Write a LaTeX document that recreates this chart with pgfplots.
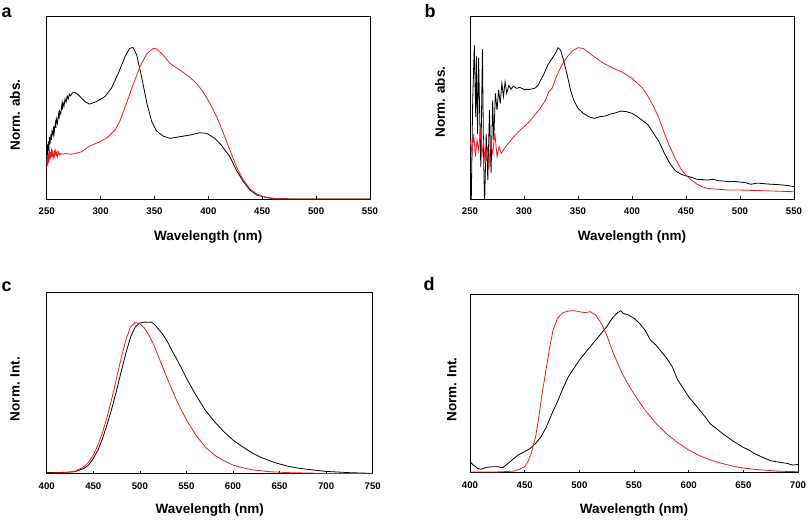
\documentclass[border=0pt]{standalone}
\usepackage{pgfplots}
\pgfplotsset{compat=1.18}
\usepackage{fontspec}
\setmainfont{Liberation Sans}
\definecolor{myred}{RGB}{237,28,36}
\pgfplotsset{
  panel/.style={
    scale only axis,
    axis line style={line width=0.8pt},
    ytick=\empty,
    xtick pos=left,
    tick align=inside,
    major tick length=3pt,
    tick style={line width=0.6pt,black},
    /pgf/number format/assume math mode=true,
    /pgf/number format/set thousands separator={},
    ticklabel style={font=\bfseries\fontsize{9.6}{9.6}\selectfont},
    every x tick label/.append style={yshift=-5.5pt},
    xlabel={Wavelength (nm)},
    label style={font=\bfseries\fontsize{13.5}{13.5}\selectfont},
    ymin=0,
    clip=true,
  },
  blk/.style={black,line width=0.8pt},
  rd/.style={myred,line width=0.8pt},
}
\begin{document}
\begin{tikzpicture}
\path[use as bounding box] (0pt,0pt) rectangle (808pt,-522pt);

% ---------------- panel a
\begin{axis}[panel,
  at={(46.7pt,-199pt)}, anchor=south west,
  width=323.3pt, height=183pt,
  xmin=250, xmax=550, ymax=1.207,
  xtick={250,300,...,550},
  x label style={at={(axis description cs:0.5,0)},anchor=center,yshift=-38pt},
  y label style={at={(axis description cs:-0.098,0.459)},anchor=center},
  ylabel={Norm. abs.},
]
\addplot[blk] coordinates {
(250,0.30)(250.5,0.36)(251,0.27)(251.5,0.38)(252,0.32)(252.5,0.41)(253,0.36)(254,0.43)(254.5,0.39)(255,0.45)
(256,0.42)(256.5,0.48)(257,0.44)(258,0.50)(258.5,0.47)(259,0.53)(260,0.50)(261,0.56)(261.5,0.53)(262,0.58)
(263,0.56)(264,0.62)(264.5,0.59)(265,0.64)(266,0.61)(267,0.66)(268,0.64)(269,0.68)(270,0.66)(271,0.69)
(272,0.68)(274,0.70)(276,0.703)(279,0.69)(282.5,0.664)(286,0.64)(289.6,0.626)(296,0.642)(304,0.675)(310,0.73)
(316.5,0.83)(322.7,0.94)(327,0.993)(330,1.0)(333.5,0.95)(338,0.807)(343,0.63)(347.5,0.51)(352,0.448)(358,0.415)
(364.4,0.40)(373.7,0.411)(383,0.422)(392,0.437)(398.5,0.433)(406,0.40)(412,0.356)(420,0.279)(426,0.191)(432.5,0.114)
(438.7,0.059)(445,0.026)(454,0.009)(463,0.002)(480,0.0)(550,0.0)
};
\addplot[rd] coordinates {
(250,0.20)(250.5,0.28)(251,0.22)(251.5,0.30)(252,0.24)(252.5,0.32)(253,0.26)(253.5,0.31)(254,0.27)(254.5,0.33)
(255,0.28)(255.5,0.32)(256,0.27)(257,0.31)(257.5,0.28)(258,0.32)(259,0.29)(259.5,0.31)(260,0.28)(261,0.31)
(262,0.29)(263,0.30)(265,0.295)(268,0.30)(272,0.295)(274.7,0.297)(282.5,0.312)(290,0.35)(299.5,0.378)(307,0.41)
(313.4,0.455)(318,0.516)(324,0.63)(330,0.75)(336.6,0.873)(343,0.96)(349,0.993)(352,0.99)(358,0.95)(364.4,0.894)
(373.7,0.85)(383,0.802)(389,0.763)(395,0.708)(401.5,0.63)(407.7,0.543)(414,0.433)(420,0.323)(426,0.213)(432.5,0.125)
(438.7,0.066)(445,0.033)(451,0.015)(460,0.004)(469.6,0.0)(550,0.0)
};
\end{axis}

% ---------------- panel b
\begin{axis}[panel,
  at={(470pt,-199pt)}, anchor=south west,
  width=324pt, height=183pt,
  xmin=250, xmax=550, ymax=1.207,
  xtick={250,300,...,550},
  x label style={at={(axis description cs:0.5,0)},anchor=center,yshift=-38pt},
  y label style={at={(axis description cs:-0.0926,0.53)},anchor=center},
  ylabel={Norm. abs.},
]
\addplot[blk] coordinates {
(250,0.50)(251,-0.1)(252.5,0.65)(254,1.015)(255.3,0.54)(256,0.94)(257,0.43)(258,0.93)(259,0.54)(260,0.21)
(261.5,0.99)(262.5,0.32)(263.5,-0.05)(265,0.43)(266.5,0.125)(268,0.587)(269.5,0.17)(271,0.65)(272,0.39)(273.5,0.697)
(275,0.587)(276.5,0.72)(278,0.63)(279.5,0.763)(281,0.675)(282.5,0.774)(284,0.697)(286,0.75)(288,0.723)(290,0.745)
(293,0.73)(296,0.736)(300,0.723)(305,0.723)(310,0.73)(313,0.75)(318,0.818)(322,0.884)(326,0.927)(329,0.96)
(331.5,0.998)(334,0.98)(337,0.905)(340,0.818)(343,0.72)(346,0.653)(350,0.598)(355,0.565)(360,0.543)(365,0.532)
(370,0.543)(375,0.547)(380,0.56)(385,0.569)(390,0.58)(395,0.576)(400,0.565)(405,0.543)(410,0.516)(415,0.488)
(420,0.433)(425,0.378)(430,0.301)(435,0.235)(440,0.187)(445,0.165)(450,0.152)(455,0.143)(460,0.13)(465,0.128)
(470,0.125)(475,0.13)(480,0.121)(485,0.118)(490,0.114)(495,0.116)(500,0.112)(505,0.108)(510,0.097)(515,0.104)
(520,0.103)(525,0.099)(530,0.097)(535,0.095)(540,0.092)(545,0.088)(550,0.081)
};
\addplot[rd] coordinates {
(250,0.39)(252,0.30)(253.5,0.43)(255,0.28)(256.5,0.39)(258,0.32)(259.5,0.455)(261,0.28)(262.5,0.39)(264,0.235)
(266,0.345)(267.5,0.19)(269,0.367)(271,0.30)(273,0.433)(275,0.28)(277,0.345)(279,0.30)(281,0.323)(283,0.345)
(286,0.371)(290,0.407)(295,0.444)(300,0.477)(305,0.51)(310,0.554)(315,0.598)(320,0.653)(323,0.708)(326,0.73)
(330,0.807)(335,0.884)(340,0.938)(345,0.978)(350,0.998)(355,0.993)(360,0.965)(365,0.938)(370,0.912)(375,0.89)
(380,0.873)(385,0.855)(390,0.84)(395,0.818)(400,0.796)(405,0.763)(410,0.73)(415,0.675)(420,0.609)(425,0.532)
(430,0.433)(435,0.345)(440,0.268)(445,0.202)(450,0.158)(455,0.125)(460,0.099)(465,0.081)(470,0.07)(480,0.064)
(490,0.059)(500,0.059)(520,0.055)(550,0.048)
};
\end{axis}

% ---------------- panel c
\begin{axis}[panel,
  at={(46.7pt,-473.7pt)}, anchor=south west,
  width=326pt, height=181.7pt,
  xmin=400, xmax=750, ymax=1.198,
  xtick={400,450,...,750},
  x label style={at={(axis description cs:0.5,0)},anchor=center,yshift=-36.3pt},
  y label style={at={(axis description cs:-0.0972,0.466)},anchor=center},
  ylabel={Norm. Int.},
]
\addplot[blk] coordinates {
(400,0.007)(420,0.009)(430,0.013)(440,0.035)(445,0.057)(450,0.101)(455,0.156)(460,0.233)(465,0.328)(470,0.432)
(475,0.548)(480,0.674)(485,0.795)(490,0.899)(495,0.967)(500,0.993)(505,1.0)(510,0.998)(512,1.0)(515,0.989)
(520,0.954)(525,0.916)(530,0.866)(535,0.806)(540,0.751)(545,0.692)(550,0.63)(560,0.52)(570,0.421)(580,0.344)
(590,0.278)(600,0.222)(610,0.178)(620,0.139)(630,0.108)(640,0.084)(650,0.064)(660,0.048)(670,0.037)(680,0.029)
(700,0.015)(725,0.007)(750,0.002)
};
\addplot[rd] coordinates {
(400,0.004)(420,0.007)(430,0.015)(440,0.046)(445,0.075)(450,0.123)(455,0.189)(460,0.273)(465,0.377)(470,0.498)
(475,0.63)(480,0.762)(485,0.883)(490,0.967)(495,0.998)(500,0.989)(505,0.96)(510,0.91)(515,0.85)(520,0.773)
(525,0.696)(530,0.619)(540,0.476)(550,0.355)(560,0.256)(570,0.178)(580,0.123)(590,0.086)(600,0.057)(610,0.04)
(620,0.026)(640,0.013)(660,0.007)(700,0.002)(750,0.0)
};
\end{axis}

% ---------------- panel d
\begin{axis}[panel,
  at={(470pt,-472.7pt)}, anchor=south west,
  width=328pt, height=178.7pt,
  xmin=400, xmax=700, ymax=1.103,
  xtick={400,450,...,700},
  x label style={at={(axis description cs:0.5,0)},anchor=center,yshift=-37.3pt},
  y label style={at={(axis description cs:-0.0558,0.466)},anchor=center},
  ylabel={Norm. Int.},
]
\addplot[blk] coordinates {
(400,0.068)(403,0.047)(407,0.027)(410,0.021)(415,0.033)(420,0.037)(425,0.037)(430,0.031)(435,0.058)(440,0.088)
(445,0.113)(450,0.13)(455,0.15)(460,0.181)(465,0.222)(470,0.284)(475,0.366)(480,0.438)(485,0.521)(490,0.593)
(495,0.644)(500,0.695)(505,0.737)(510,0.778)(515,0.819)(520,0.86)(525,0.901)(530,0.953)(535,0.988)(538,1.0)
(540,0.984)(545,0.973)(550,0.953)(555,0.922)(560,0.881)(565,0.819)(570,0.788)(575,0.747)(580,0.706)(585,0.654)
(590,0.572)(595,0.521)(600,0.469)(605,0.428)(610,0.387)(615,0.346)(620,0.30)(625,0.274)(630,0.247)(635,0.222)
(640,0.198)(645,0.177)(650,0.156)(655,0.14)(660,0.119)(665,0.103)(670,0.088)(675,0.074)(680,0.068)(685,0.062)
(690,0.058)(695,0.047)(700,0.051)
};
\addplot[rd] coordinates {
(400,0.004)(420,0.004)(430,0.006)(440,0.01)(445,0.021)(450,0.037)(453,0.068)(456,0.119)(460,0.222)(463,0.346)
(466,0.49)(470,0.654)(473,0.778)(476,0.881)(480,0.953)(485,0.988)(490,0.998)(495,1.0)(500,0.994)(505,0.988)
(510,0.994)(515,0.973)(520,0.922)(525,0.85)(530,0.757)(535,0.675)(540,0.603)(545,0.541)(550,0.486)(560,0.387)
(570,0.305)(580,0.239)(590,0.185)(600,0.14)(610,0.105)(620,0.078)(630,0.058)(640,0.041)(650,0.029)(660,0.021)
(680,0.01)(700,0.006)
};
\end{axis}

% panel letters
\node[anchor=base west,inner sep=0pt,font=\bfseries\fontsize{18}{18}\selectfont] at (1.5pt,-17pt) {a};
\node[anchor=base west,inner sep=0pt,font=\bfseries\fontsize{18}{18}\selectfont] at (424.5pt,-17pt) {b};
\node[anchor=base west,inner sep=0pt,font=\bfseries\fontsize{18}{18}\selectfont] at (1.5pt,-291pt) {c};
\node[anchor=base west,inner sep=0pt,font=\bfseries\fontsize{18}{18}\selectfont] at (423.5pt,-290pt) {d};
\end{tikzpicture}
\end{document}
